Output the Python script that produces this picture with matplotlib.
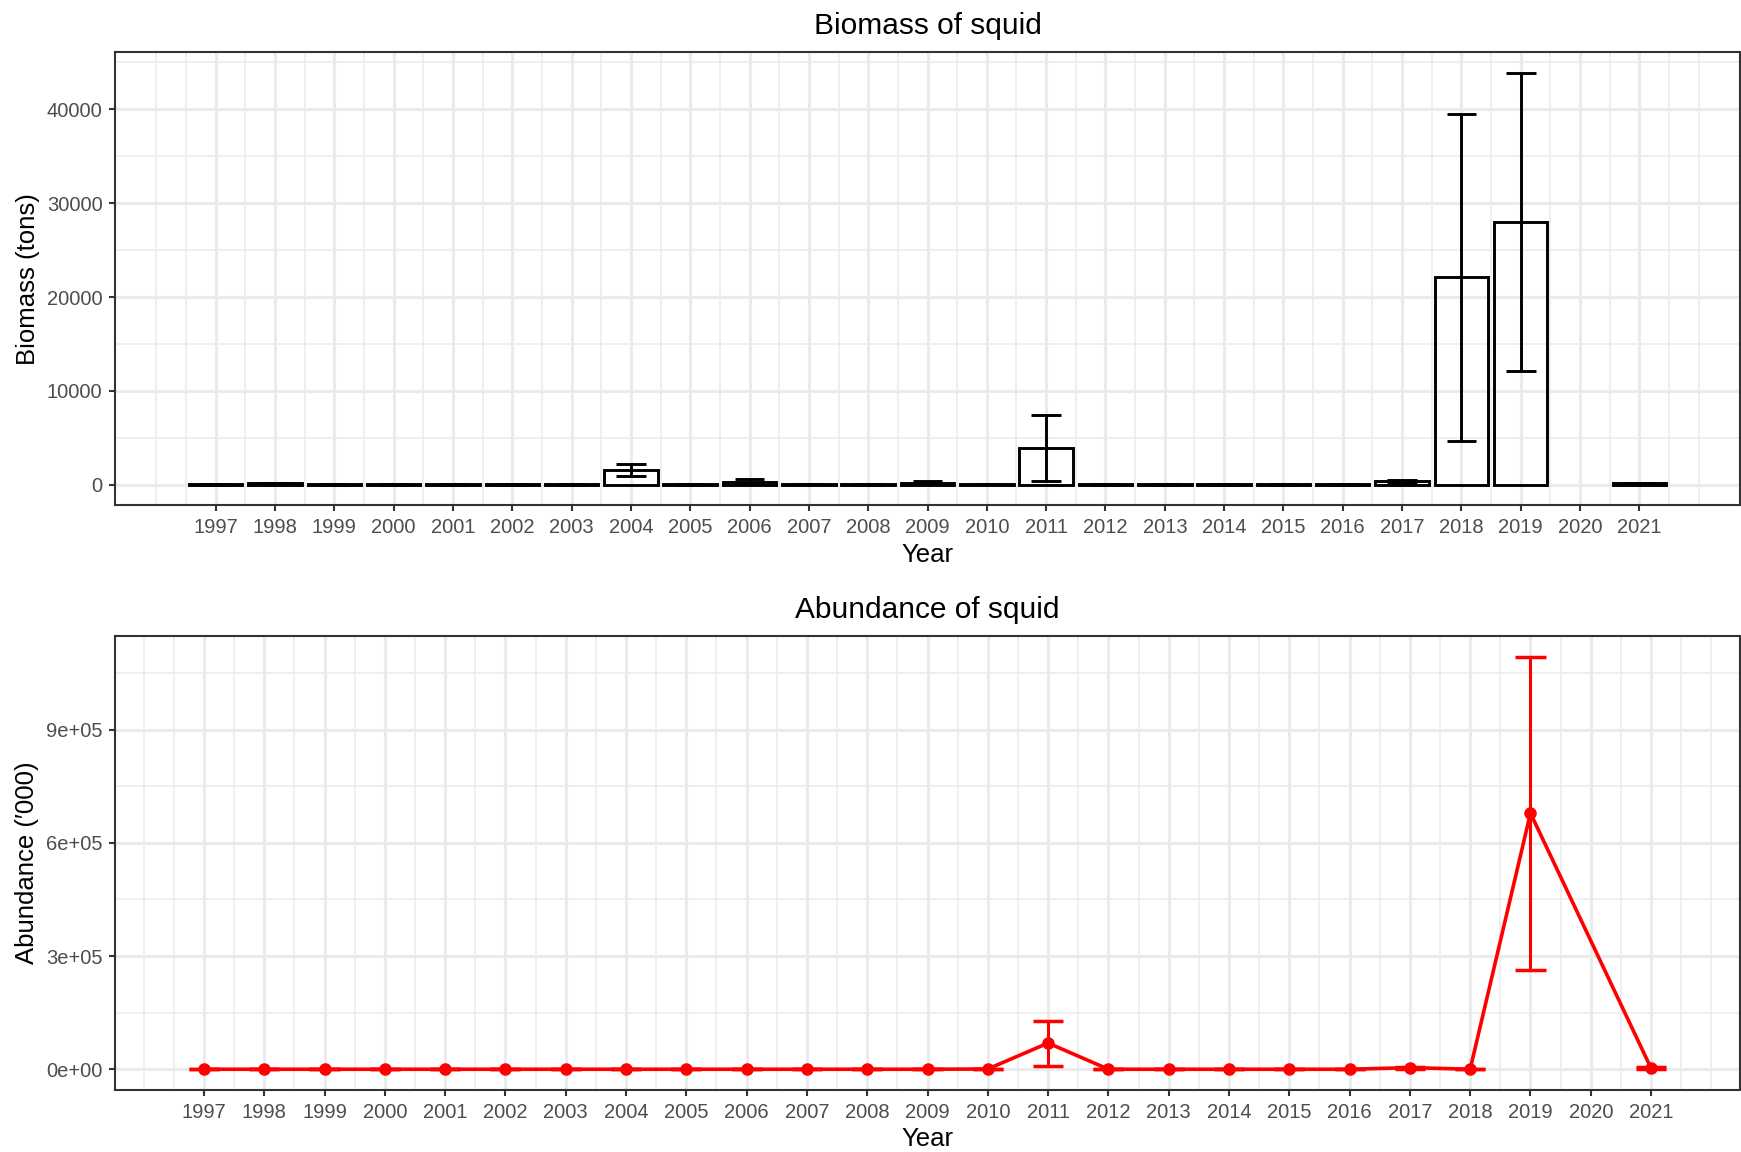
import matplotlib
matplotlib.use("Agg")
import matplotlib.pyplot as plt
import numpy as np

plt.rcParams['font.family'] = ['Liberation Sans', 'DejaVu Sans']

years = [1997, 1998, 1999, 2000, 2001, 2002, 2003, 2004, 2005, 2006, 2007, 2008,
         2009, 2010, 2011, 2012, 2013, 2014, 2015, 2016, 2017, 2018, 2019, 2021]
tick_years = list(range(1997, 2022))

biomass = [50, 200, 50, 50, 50, 50, 50, 1600, 50, 350, 100, 50,
           250, 100, 3950, 50, 50, 50, 50, 50, 400, 22100, 28000, 150]
biomass_lo = [30, 150, 30, 30, 30, 30, 30, 900, 30, 150, 60, 30,
              100, 60, 450, 30, 30, 30, 30, 30, 250, 4700, 12100, 100]
biomass_hi = [70, 250, 70, 70, 70, 70, 70, 2240, 70, 600, 140, 70,
              400, 140, 7400, 70, 70, 70, 70, 70, 560, 39500, 43900, 200]

abundance = [300, 300, 300, 300, 300, 300, 300, 300, 300, 300, 300, 300,
             300, 1000, 69700, 300, 300, 300, 300, 300, 4500, 500, 678500, 3000]
abundance_lo = [100, 100, 100, 100, 100, 100, 100, 100, 100, 100, 100, 100,
                100, 300, 10100, 100, 100, 100, 100, 100, 1500, 0, 262000, 1000]
abundance_hi = [500, 500, 500, 500, 500, 500, 500, 500, 500, 500, 500, 500,
                500, 1700, 127100, 500, 500, 500, 500, 500, 7500, 1500, 1093000, 5000]

W, H = 1741, 1152
fig = plt.figure(figsize=(W / 100, H / 100), dpi=100)

ax1 = fig.add_axes([115 / W, 1 - 505.5 / H, (1740 - 115) / W, (505.5 - 52) / H])
ax2 = fig.add_axes([115 / W, 1 - 1090 / H, (1740 - 115) / W, (1090 - 636) / H])

grid_col = '#EBEBEB'
border_col = '#333333'
tick_col = '#4D4D4D'


def style(ax, xlim, ylim, ymajor, yminor, xminor):
    ax.set_xlim(*xlim)
    ax.set_ylim(*ylim)
    ax.set_xticks(tick_years)
    ax.set_xticks(xminor, minor=True)
    ax.set_yticks(ymajor)
    ax.set_yticks(yminor, minor=True)
    ax.grid(which='major', color=grid_col, lw=2.2, zorder=0)
    ax.grid(which='minor', color=grid_col, lw=1.1, zorder=0)
    ax.set_axisbelow(True)
    for s in ax.spines.values():
        s.set_color(border_col)
        s.set_linewidth(1.5)
    ax.tick_params(which='major', length=4, width=1.5, color=border_col,
                   labelsize=14.5, labelcolor=tick_col, pad=5)
    ax.tick_params(which='minor', length=0)


xminor = list(np.arange(1996.0, 2022.01, 0.5))
xminor = [v for v in xminor if v not in tick_years]

# Top panel: biomass bars
ax1.bar(years, biomass, width=0.9, fill=False, edgecolor='black', lw=2.1, zorder=3)
ax1.vlines(years, biomass_lo, biomass_hi, color='black', lw=2.1, zorder=4)
ax1.hlines(biomass_lo, np.array(years) - 0.25, np.array(years) + 0.25, color='black', lw=2.1, zorder=4)
ax1.hlines(biomass_hi, np.array(years) - 0.25, np.array(years) + 0.25, color='black', lw=2.1, zorder=4)
style(ax1, (1995.305, 2022.695), (-2195, 46095),
      [0, 10000, 20000, 30000, 40000], [5000, 15000, 25000, 35000, 45000], xminor)
ax1.set_yticklabels(['0', '10000', '20000', '30000', '40000'])
ax1.set_title('Biomass of squid', fontsize=21.5, pad=13)
ax1.set_xlabel('Year', fontsize=18.5, labelpad=4)
ax1.set_ylabel('Biomass (tons)', fontsize=18.5, labelpad=5)

# Bottom panel: abundance line
red = '#FF0000'
ax2.plot(years, abundance, color=red, lw=2.6, zorder=3)
ax2.plot(years, abundance, 'o', color=red, ms=8, zorder=4)
ax2.vlines(years, abundance_lo, abundance_hi, color=red, lw=2.2, zorder=4)
ax2.hlines(abundance_lo, np.array(years) - 0.25, np.array(years) + 0.25, color=red, lw=2.5, zorder=4)
ax2.hlines(abundance_hi, np.array(years) - 0.25, np.array(years) + 0.25, color=red, lw=2.5, zorder=4)
style(ax2, (1995.525, 2022.475), (-54650, 1147650),
      [0, 300000, 600000, 900000], [150000, 450000, 750000, 1050000], xminor)
ax2.set_yticklabels(['0e+00', '3e+05', '6e+05', '9e+05'])
ax2.set_title('Abundance of squid', fontsize=21.5, pad=13)
ax2.set_xlabel('Year', fontsize=18.5, labelpad=4)
ax2.set_ylabel("Abundance (\u2032000)", fontsize=18.5, labelpad=5)

fig.savefig('out.png', dpi=100, facecolor='white')
